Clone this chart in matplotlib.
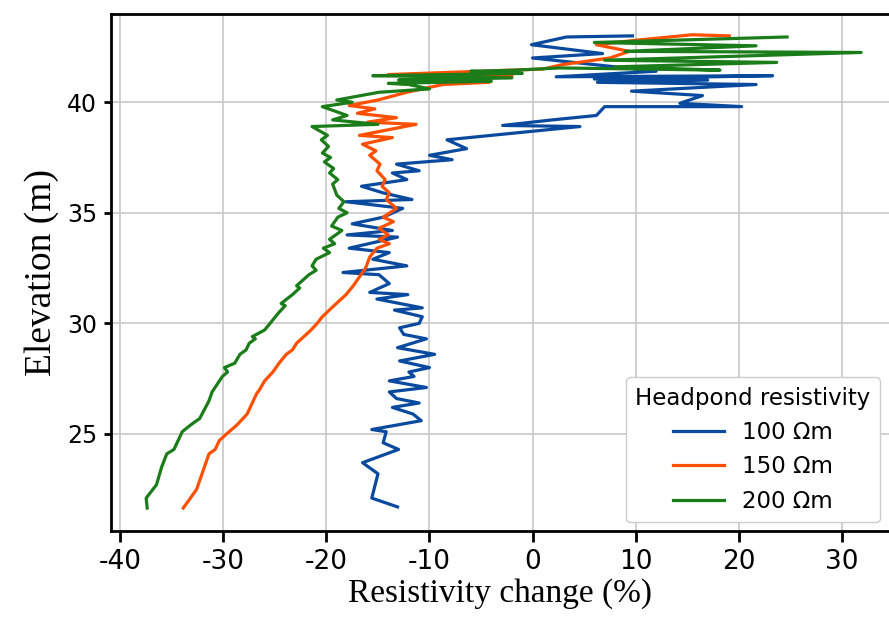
import matplotlib.pyplot as plt

plt.rcParams['axes.unicode_minus'] = False

# Headpond resistivity 100 Ohm-m
elev_100 = [21.7, 22.1, 23.2, 23.7, 24.3, 24.6, 25.1, 25.2, 25.6, 25.9, 26.2, 26.4,
            26.6, 26.9, 27.1, 27.4, 27.6, 27.8, 28.0, 28.3, 28.6, 28.9, 29.3, 29.5,
            29.8, 30.0, 30.3, 30.6, 30.7, 31.1, 31.3, 31.4, 31.8, 32.2, 32.3, 32.6,
            32.9, 33.2, 33.4, 33.9, 34.0, 34.2, 34.5, 34.8, 35.2, 35.5, 35.6, 35.9,
            36.2, 36.5, 36.8, 36.9, 37.2, 37.4, 37.6, 37.9, 38.3, 38.45, 38.9, 38.95,
            39.2, 39.4, 39.8, 39.8, 39.95, 40.3, 40.5, 40.8, 40.9, 41.0, 41.05, 41.2,
            41.15, 41.4, 42.0, 42.2, 42.6, 42.95, 43.0]
change_100 = [-13.1, -15.6, -15.0, -16.5, -13.0, -14.5, -14.2, -15.6, -10.8, -11.6, -13.6, -11.0,
              -13.2, -13.9, -10.3, -13.9, -11.5, -12.0, -10.0, -12.9, -9.5, -13.1, -10.3, -12.5,
              -12.9, -11.0, -10.7, -13.4, -10.7, -15.1, -12.1, -15.8, -13.9, -14.9, -18.4, -12.2,
              -15.5, -13.9, -17.8, -13.1, -18.0, -13.6, -17.5, -14.5, -12.6, -18.1, -11.7, -14.5,
              -16.6, -12.2, -13.6, -11.0, -13.2, -7.8, -10.0, -6.4, -8.3, -5.1, 4.6, -2.9,
              1.9, 6.2, 7.0, 20.3, 14.3, 16.5, 9.6, 21.7, 6.3, 17.0, 6.0, 23.3,
              2.3, 12.0, 0.0, 6.8, -0.1, 3.3, 9.7]

# Headpond resistivity 150 Ohm-m
elev_150 = [21.65, 22.1, 22.5, 23.3, 24.1, 24.3, 24.7, 25.0, 25.4, 25.9, 26.3, 26.8,
            27.0, 27.4, 27.8, 28.2, 28.6, 28.8, 29.1, 29.4, 29.7, 30.0, 30.3, 30.7,
            31.0, 31.3, 31.7, 32.1, 32.5, 33.0, 33.4, 33.6, 33.8, 34.0, 34.3, 34.6,
            34.8, 35.2, 35.6, 35.9, 36.2, 36.5, 36.9, 37.2, 37.6, 37.8, 38.1, 38.4,
            38.5, 39.0, 39.1, 39.3, 39.5, 39.7, 39.85, 40.1, 40.45, 40.8, 40.9, 41.0,
            41.2, 41.25, 41.5, 41.7, 42.0, 42.3, 42.6, 42.8, 43.05, 43.0]
change_150 = [-33.9, -33.2, -32.6, -32.0, -31.4, -30.8, -30.4, -29.7, -28.7, -27.7, -27.3, -26.8,
              -26.5, -26.0, -25.2, -24.6, -23.9, -23.3, -22.9, -22.2, -21.5, -20.9, -20.4, -19.5,
              -18.8, -18.1, -17.4, -16.8, -16.2, -15.8, -15.1, -13.9, -14.9, -14.0, -14.9, -13.5,
              -14.5, -13.2, -14.2, -13.9, -14.6, -14.3, -15.1, -14.8, -15.8, -15.2, -16.5, -13.6,
              -16.8, -11.3, -16.0, -13.2, -17.0, -15.3, -17.8, -15.0, -12.2, -8.7, -4.2, -12.0,
              -2.0, -14.0, 1.0, 2.9, 7.5, 9.4, 6.2, 10.0, 15.5, 19.1]

# Headpond resistivity 200 Ohm-m
elev_200 = [21.65, 22.1, 22.7, 23.5, 24.1, 24.3, 25.1, 25.4, 25.7, 26.5, 26.9, 27.6,
            27.8, 28.0, 28.2, 28.6, 28.8, 29.1, 29.3, 29.4, 29.7, 30.1, 30.5, 30.8,
            30.9, 31.3, 31.6, 31.7, 32.2, 32.4, 32.6, 32.9, 33.2, 33.4, 33.6, 33.8,
            34.2, 34.4, 34.8, 35.0, 35.2, 35.5, 35.8, 36.3, 36.5, 36.8, 37.0, 37.3,
            37.5, 37.7, 38.0, 38.3, 38.5, 38.9, 39.0, 39.2, 39.4, 39.8, 40.0, 40.1,
            40.45, 40.6, 40.8, 40.85, 40.95, 41.0, 41.1, 41.2, 41.25, 41.3, 41.4, 41.45,
            41.55, 41.45, 41.6, 41.8, 41.9, 42.25, 42.3, 42.55, 42.7, 42.95]
change_200 = [-37.4, -37.5, -36.5, -36.0, -35.5, -34.8, -34.0, -33.2, -32.3, -31.4, -31.1, -30.1,
              -29.6, -29.9, -28.9, -28.4, -27.8, -27.5, -26.9, -27.2, -26.0, -25.3, -24.6, -24.0,
              -24.4, -23.3, -22.6, -22.9, -21.7, -21.0, -21.4, -21.0, -19.7, -20.3, -19.2, -19.7,
              -18.5, -19.5, -18.9, -18.0, -18.8, -18.3, -19.0, -19.4, -18.9, -19.7, -19.3, -20.2,
              -19.6, -20.4, -19.8, -20.5, -19.9, -21.4, -15.0, -19.4, -18.0, -20.4, -17.5, -19.0,
              -14.9, -10.0, -12.0, -14.0, -4.0, -13.0, -2.0, -15.5, -8.1, -1.0, -6.0, -1.6,
              2.6, 18.2, 8.0, 23.7, 7.0, 31.9, 9.0, 21.7, 6.0, 24.7]

labels = ['100 \u03a9m', '150 \u03a9m', '200 \u03a9m']
colors = ['#0a4a9e', '#ff4f00', '#1a7d1a']

fig = plt.figure(figsize=(8.89, 6.25), dpi=100)
ax = fig.add_axes([0.125, 0.15, 0.875, 0.828])

ax.plot(change_100, elev_100, color=colors[0], linewidth=2.3, label=labels[0])
ax.plot(change_150, elev_150, color=colors[1], linewidth=2.3, label=labels[1])
ax.plot(change_200, elev_200, color=colors[2], linewidth=2.3, label=labels[2])

ax.set_xlim(-40.9, 34.6)
ax.set_ylim(20.6, 44.0)
ax.set_xticks([-40, -30, -20, -10, 0, 10, 20, 30])
ax.set_yticks([25, 30, 35, 40])
ax.grid(True, color='#c8c8c8', linewidth=1.2)
ax.set_axisbelow(True)

ax.spines['right'].set_visible(False)
for side in ['left', 'top', 'bottom']:
    ax.spines[side].set_linewidth(2.0)
ax.tick_params(axis='x', direction='out', length=8, width=2, labelsize=19, pad=5)
ax.tick_params(axis='y', direction='out', length=5, width=2, labelsize=17, pad=5)

ax.set_xlabel('Resistivity change (%)', family='Liberation Serif', fontsize=24, labelpad=2)
ax.set_ylabel('Elevation (m)', family='Liberation Serif', fontsize=27, labelpad=6)

leg = ax.legend(title='Headpond resistivity', loc='lower right', fontsize=16.5,
                title_fontsize=16.5, borderaxespad=0.4, handlelength=2.2, framealpha=1)

fig.savefig('out.png', dpi=100)
